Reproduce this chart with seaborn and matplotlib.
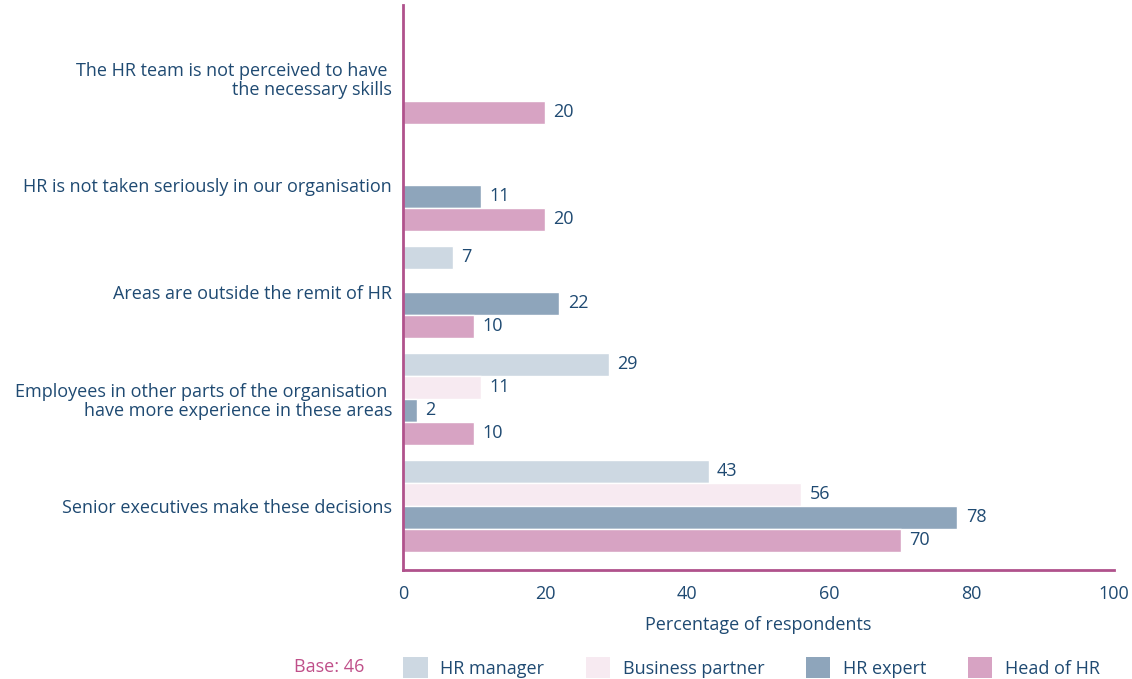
import pandas as pd
import numpy as np
import seaborn as sns
import matplotlib.pyplot as plt
from matplotlib.patches import Patch

sns.set_style("white")
plt.rcParams['font.family'] = ['Open Sans', 'DejaVu Sans']

reasons = ["The HR team is not perceived to have \nthe necessary skills",
           "HR is not taken seriously in our organisation",
           "Areas are outside the remit of HR",
           "Employees in other parts of the organisation \nhave more experience in these areas",
           "Senior executives make these decisions"]
roles = ["HR manager", "Business partner", "HR expert", "Head of HR"]
hr_manager = [np.nan, np.nan, 7, 29, 43]
business_partner = [np.nan, np.nan, np.nan, 11, 56]
hr_expert = [np.nan, 11, 22, 2, 78]
head_of_hr = [20, 20, 10, 10, 70]
colors = ["#cdd8e2", "#f7eaf1", "#8ea5bb", "#d7a3c3"]

text_col = "#1f4a72"
axis_col = "#b0528c"

rows = []
for vals, role in zip([hr_manager, business_partner, hr_expert, head_of_hr], roles):
    for reason, v in zip(reasons, vals):
        rows.append({'Reason': reason, 'Role': role, 'Value': v})
df = pd.DataFrame(rows)

fig = plt.figure(figsize=(11.32, 6.79), dpi=100)
ax = fig.add_axes([0.356, 0.1605, 0.628, 0.8325])

sns.barplot(data=df, y='Reason', x='Value', hue='Role', order=reasons, hue_order=roles,
            palette=colors, width=0.86, orient='h', errorbar=None,
            edgecolor='white', linewidth=1, saturation=1, legend=False, ax=ax)

for c in ax.containers:
    ax.bar_label(c, fmt='%g', padding=6, color=text_col, fontsize=13)

ax.set_xlim(0, 100)
ax.set_ylim(4.6, -0.68)
ax.set_xticks(range(0, 101, 20))
ax.tick_params(axis='both', length=0, colors=text_col, labelsize=13)
ax.tick_params(axis='x', pad=11)
ax.tick_params(axis='y', pad=8)
for lbl in ax.get_yticklabels():
    lbl.set_horizontalalignment('right')
    lbl.set_linespacing(1.1)
ax.set_ylabel('')
ax.set_xlabel('Percentage of respondents', color=text_col, fontsize=13, labelpad=9)

sns.despine(ax=ax)
for s in ['left', 'bottom']:
    ax.spines[s].set_color(axis_col)
    ax.spines[s].set_linewidth(2)

fig.text(0.26, 0.005, 'Base: 46', color="#c0508a", fontsize=13, va='bottom')
handles = [Patch(facecolor=c, edgecolor='none') for c in colors]
fig.legend(handles, roles, loc='lower left', bbox_to_anchor=(0.342, -0.022), ncol=4,
           frameon=False, fontsize=13, labelcolor=text_col, handlelength=1.35,
           handleheight=1.35, handletextpad=0.7, columnspacing=2.3)

fig.savefig('out.png', dpi=100)
